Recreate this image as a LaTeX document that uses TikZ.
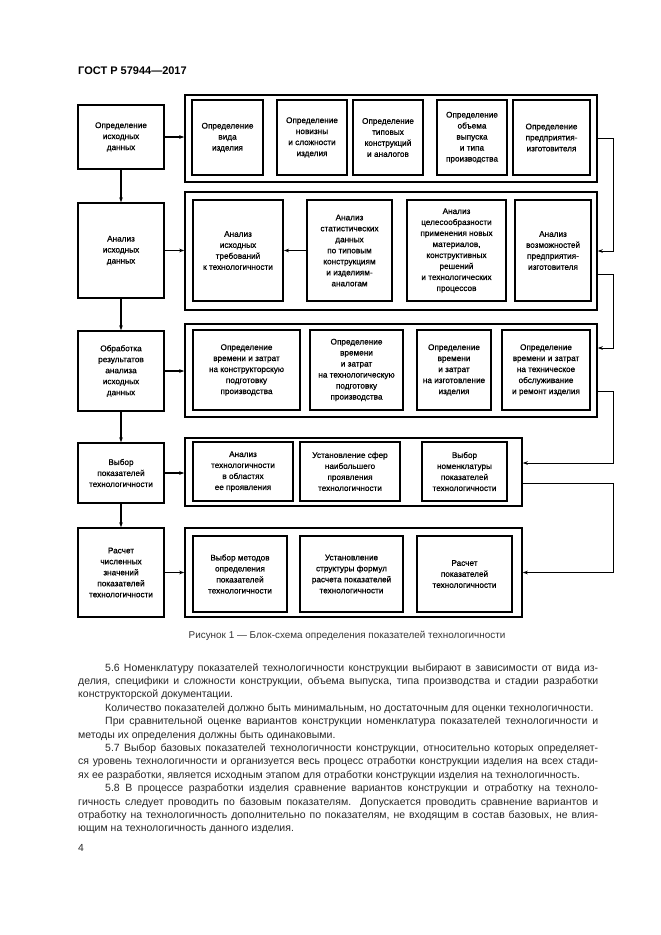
\documentclass[tikz,border=0pt]{standalone}
\usepackage{fontspec}
\setmainfont{Liberation Sans}
\newfontfamily\boxfont{Liberation Sans}[FakeBold=0.7]
\usetikzlibrary{arrows.meta}

\tikzset{
  stage box/.style={draw,line width=1.4pt,minimum width=86pt,align=center,
    inner sep=1pt,font=\boxfont\fontsize{8.2}{11}\selectfont},
  task box/.style={draw,line width=2pt,align=center,inner sep=1pt,
    font=\boxfont\fontsize{8.2}{11}\selectfont},
  group frame/.style={draw,line width=1.6pt,inner sep=0pt},
  flow line/.style={line width=1.4pt},
  flow arrow/.style={flow line,-{Stealth[length=5pt,width=3.6pt]}},
  return line/.style={line width=1pt,-{Stealth[length=5pt,width=3.6pt]}}
}

\begin{document}
\begin{tikzpicture}[x=1pt,y=-1pt]
  \useasboundingbox (0,0) rectangle (661,935);
  \node[anchor=base west,inner sep=0pt,font=\bfseries\fontsize{11}{13}\selectfont] (head) at (78,74) {ГОСТ Р 57944—2017};

  \node[stage box,minimum height=64] (s1) at (121,137) {Определение\\исходных\\данных};
  \node[stage box,minimum height=95] (s2) at (121,250.5) {Анализ\\исходных\\данных};
  \node[stage box,minimum height=80] (s3) at (121,371) {Обработка\\результатов\\анализа\\исходных\\данных};
  \node[stage box,minimum height=60] (s4) at (121,473) {Выбор\\показателей\\технологичности};
  \node[stage box,minimum height=89] (s5) at (121,572.5) {Расчет\\численных\\значений\\показателей\\технологичности};

  \node[group frame,minimum width=412,minimum height=87] (g1) at (391,138.5) {};
  \node[group frame,minimum width=412,minimum height=118] (g2) at (391,251) {};
  \node[group frame,minimum width=412,minimum height=93] (g3) at (391,370.5) {};
  \node[group frame,minimum width=337,minimum height=68] (g4) at (353.5,472) {};
  \node[group frame,minimum width=337,minimum height=89] (g5) at (353.5,572.5) {};

  \node[task box,minimum width=71,minimum height=75] (t11) at (227.5,137.5) {Определение\\вида\\изделия};
  \node[task box,minimum width=70,minimum height=75] (t12) at (312,137.5) {Определение\\новизны\\и сложности\\изделия};
  \node[task box,minimum width=70,minimum height=75] (t13) at (388,137.5) {Определение\\типовых\\конструкций\\и аналогов};
  \node[task box,minimum width=70,minimum height=75] (t14) at (472,137.5) {Определение\\объема\\выпуска\\и типа\\производства};
  \node[task box,minimum width=77,minimum height=75] (t15) at (551.5,137.5) {Определение\\предприятия-\\изготовителя};

  \node[task box,minimum width=90,minimum height=101] (t21) at (238,250.5) {Анализ\\исходных\\требований\\к технологичности};
  \node[task box,minimum width=85,minimum height=101] (t22) at (349.5,250.5) {Анализ\\статистических\\данных\\по типовым\\конструкциям\\и изделиям-\\аналогам};
  \node[task box,minimum width=99,minimum height=101] (t23) at (456.5,250.5) {Анализ\\целесообразности\\применения новых\\материалов,\\конструктивных\\решений\\и технологических\\процессов};
  \node[task box,minimum width=76,minimum height=101] (t24) at (553,250.5) {Анализ\\возможностей\\предприятия-\\изготовителя};

  \node[task box,minimum width=107,minimum height=80] (t31) at (246.5,370) {Определение\\времени и затрат\\на конструкторскую\\подготовку\\производства};
  \node[task box,minimum width=93,minimum height=80] (t32) at (356.5,370) {Определение\\времени\\и затрат\\на технологическую\\подготовку\\производства};
  \node[task box,minimum width=74,minimum height=80] (t33) at (454,370) {Определение\\времени\\и затрат\\на изготовление\\изделия};
  \node[task box,minimum width=88,minimum height=80] (t34) at (546,370) {Определение\\времени и затрат\\на техническое\\обслуживание\\и ремонт изделия};

  \node[task box,minimum width=100,minimum height=59] (t41) at (243,471.5) {Анализ\\технологичности\\в областях\\ее проявления};
  \node[task box,minimum width=100,minimum height=59] (t42) at (350,471.5) {Установление сфер\\наибольшего\\проявления\\технологичности};
  \node[task box,minimum width=85,minimum height=59] (t43) at (464.5,471.5) {Выбор\\номенклатуры\\показателей\\технологичности};

  \node[task box,minimum width=94,minimum height=76] (t51) at (240,574) {Выбор методов\\определения\\показателей\\технологичности};
  \node[task box,minimum width=103,minimum height=76] (t52) at (351.5,574) {Установление\\структуры формул\\расчета показателей\\технологичности};
  \node[task box,minimum width=95,minimum height=76] (t53) at (464.5,574) {Расчет\\показателей\\технологичности};

  \foreach \a/\b in {s1/s2,s2/s3,s3/s4,s4/s5}
    \draw[flow arrow] (\a) -- (\b);
  \foreach \i in {1,...,5}
    \draw[flow arrow] (s\i.east) -- (s\i.east -| g\i.west);
  \draw[flow arrow] (t22.west) -- (t22.west -| t21.east);

  \coordinate (rail) at (613,0);
  \coordinate (g2out) at ([yshift=-23pt]g2.east);
  \coordinate (g3in) at ([yshift=22.5pt]g3.east);
  \coordinate (g3out) at ([yshift=-21pt]g3.east);
  \coordinate (g4in) at ([yshift=9pt]g4.east);
  \coordinate (g4out) at ([yshift=-11pt]g4.east);
  \draw[return line] (g1.east) -- (g1.east -| rail) |- (g2.east);
  \draw[return line] (g2out) -- (g2out -| rail) |- (g3in);
  \draw[return line] (g3out) -- (g3out -| rail) |- (g4in);
  \draw[return line] (g4out) -- (g4out -| rail) |- (g5.east);

  \node[anchor=base,inner sep=0pt,text=black!80,font=\fontsize{9.9}{12}\selectfont] (caption) at (347,638) {Рисунок 1 — Блок-схема определения показателей технологичности};

  \node[anchor=base west,inner sep=0pt,text=black!85] (notes) at (78,671) {\parbox[t]{520pt}{\fontsize{10.5}{13.4}\selectfont
    \tolerance=9999\setlength\parindent{27pt}%
    5.6 Номенклатуру показателей технологичности конструкции выбирают в~зависимости от вида из-\linebreak делия, специфики и~сложности конструкции, объема выпуска, типа производства и~стадии разработки\linebreak конструкторской документации.\par
    Количество показателей должно быть минимальным, но достаточным для оценки технологичности.\par
    При сравнительной оценке вариантов конструкции номенклатура показателей технологичности и\linebreak методы их определения должны быть одинаковыми.\par
    5.7 Выбор базовых показателей технологичности конструкции, относительно которых определяет-\linebreak ся уровень технологичности и~организуется весь процесс отработки конструкции изделия на всех стади-\linebreak ях ее разработки, является исходным этапом для отработки конструкции изделия на технологичность.\par
    5.8 В процессе разработки изделия сравнение вариантов конструкции и~отработку на техноло-\linebreak гичность следует проводить по базовым показателям. Допускается проводить сравнение вариантов и\linebreak отработку на технологичность дополнительно по показателям, не входящим в~состав базовых, не влия-\linebreak ющим на технологичность данного изделия.}};

  \node[anchor=base west,inner sep=0pt,text=black!85,font=\fontsize{10.3}{12}\selectfont] (page) at (78,851) {4};
\end{tikzpicture}
\end{document}
